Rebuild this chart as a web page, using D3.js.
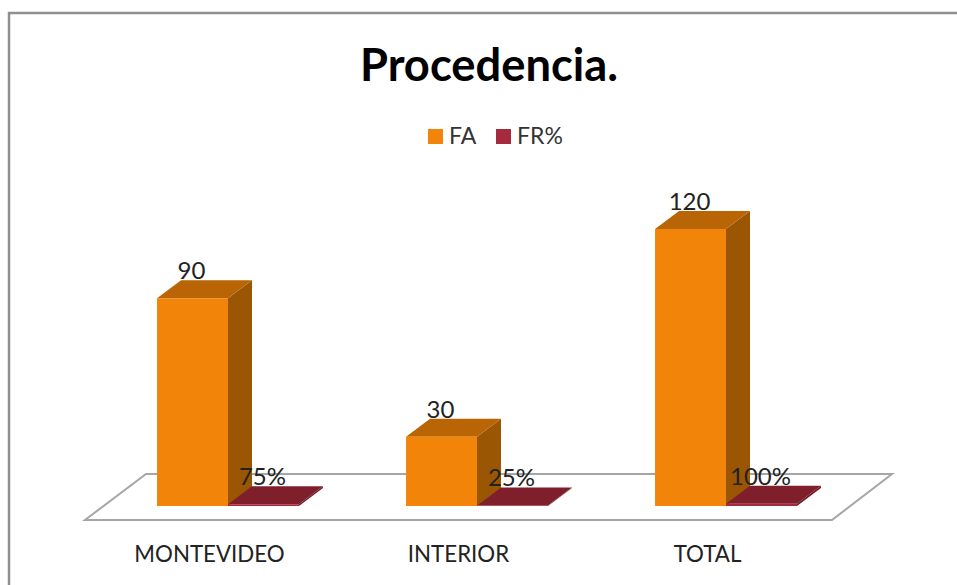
<!DOCTYPE html>
<html>
<head>
<meta charset="utf-8">
<script src="https://cdn.jsdelivr.net/npm/d3@7/dist/d3.min.js"></script>
<style>
	html, body { margin: 0; padding: 0; background: #fff; }
	svg { display: block; font-family: Lato, 'Open Sans', sans-serif; }
</style>
</head>
<body>
<svg></svg>
<script>
const categories = ['MONTEVIDEO', 'INTERIOR', 'TOTAL']
const seriesNames = ['FA', 'FR%']
const faValues = [90, 30, 120]
const frValues = [0.75, 0.25, 1]
const faLabels = ['90', '30', '120']
const frLabels = ['75%', '25%', '100%']

const width = 957,
	height = 585,
	baseY = 506,
	depthX = 24,
	depthY = 18

const svg = d3.select('svg')
	.attr('width', width)
	.attr('height', height)

// chart frame, the right and bottom edges are outside the picture
svg.append('path')
	.attr('d', d3.line()([[9, 585], [9, 13], [957, 13]]))
	.attr('fill', 'none')
	.attr('stroke', '#8f8f8f')
	.attr('stroke-width', 2.5)

svg.append('text')
	.attr('x', 489)
	.attr('y', 81)
	.attr('text-anchor', 'middle')
	.attr('font-size', 45.3)
	.attr('font-weight', 700)
	.attr('fill', '#000')
	.text('Procedencia.')

const x0 = d3.scaleBand()
	.domain(categories)
	.range([103.5, 850.5])
	.paddingInner(0.43)
	.paddingOuter(0.215)

const x1 = d3.scaleBand()
	.domain(seriesNames)
	.range([0, x0.bandwidth()])

const y = d3.scaleLinear()
	.domain([0, 120])
	.range([baseY, 229])

// the floor of the 3d chart
const floorX = d3.scaleBand()
	.domain(categories)
	.range([85, 832])

const floorLeft = floorX.range()[0],
	floorRight = floorX.range()[1]

svg.append('path')
	.attr('d', d3.line()([
		[floorLeft, 520],
		[floorRight, 520],
		[floorRight + 60, 474],
		[floorLeft + 61, 474]
	]) + 'Z')
	.attr('fill', '#fff')
	.attr('stroke', '#a6a6a6')
	.attr('stroke-width', 2)

const colors = {
	'FA': { front: '#f2840a', top: '#b96505', side: '#9b5603' },
	'FR%': { front: '#a52a3d', top: '#7f1f2b', side: '#6b1a24' }
}

const rows = []
categories.forEach((c, i) => {
	rows.push({ cat: c, name: 'FA', value: faValues[i], label: faLabels[i] })
	rows.push({ cat: c, name: 'FR%', value: frValues[i], label: frLabels[i] })
})

const bar = svg.selectAll('g.bar')
	.data(rows)
	.enter()
	.append('g')
	.attr('class', 'bar')

const left = d => x0(d.cat) + x1(d.name)
const right = d => left(d) + x1.bandwidth()

bar.append('path')
	.attr('fill', d => colors[d.name].side)
	.attr('d', d => d3.line()([
		[right(d), baseY],
		[right(d), y(d.value)],
		[right(d) + depthX, y(d.value) - depthY],
		[right(d) + depthX, baseY - depthY]
	]) + 'Z')

bar.append('path')
	.attr('fill', d => colors[d.name].top)
	.attr('d', d => d3.line()([
		[left(d), y(d.value)],
		[right(d), y(d.value)],
		[right(d) + depthX, y(d.value) - depthY],
		[left(d) + depthX, y(d.value) - depthY]
	]) + 'Z')

bar.append('rect')
	.attr('x', left)
	.attr('y', d => y(d.value))
	.attr('width', x1.bandwidth())
	.attr('height', d => baseY - y(d.value))
	.attr('fill', d => colors[d.name].front)

// labels go last so they sit over the bars
svg.selectAll('text.value')
	.data(rows)
	.enter()
	.append('text')
	.attr('class', 'value')
	.attr('x', d => left(d) + x1.bandwidth() / 2 - 1)
	.attr('y', d => y(d.value) - 19)
	.attr('text-anchor', 'middle')
	.attr('font-size', 24)
	.attr('fill', '#222')
	.text(d => d.label)

const axis = svg.append('g')
	.attr('transform', 'translate(0,520)')
	.call(d3.axisBottom(floorX).tickSize(0).tickPadding(26))

axis.select('.domain').remove()
axis.selectAll('text')
	.attr('font-family', 'Lato, sans-serif')
	.attr('font-size', 22.3)
	.attr('fill', '#222')

// legend
const legendX = d3.scaleOrdinal()
	.domain(seriesNames)
	.range([428, 496])

const legend = svg.selectAll('g.legend')
	.data(seriesNames)
	.enter()
	.append('g')
	.attr('class', 'legend')
	.attr('transform', d => 'translate(' + legendX(d) + ',129)')

legend.append('rect')
	.attr('width', 15)
	.attr('height', 15)
	.attr('fill', d => colors[d].front)

legend.append('text')
	.attr('x', 21)
	.attr('y', 15)
	.attr('font-size', 23)
	.attr('fill', '#333')
	.text(d => d)
</script>
</body>
</html>
